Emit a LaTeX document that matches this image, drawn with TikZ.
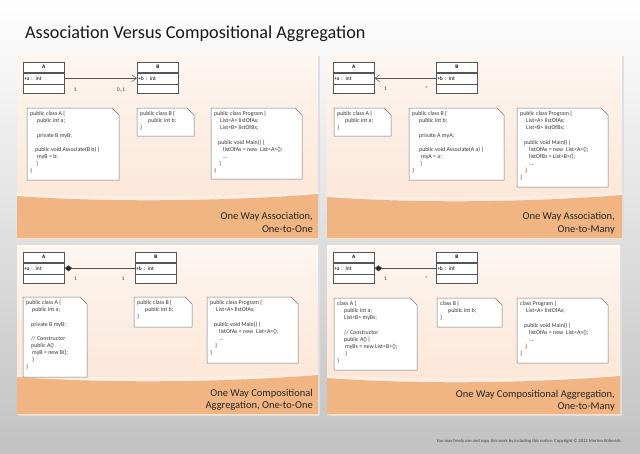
\documentclass[tikz,border=0pt]{standalone}
\usepackage{fontspec}
\setmainfont{Carlito}
\usetikzlibrary{arrows.meta}
\definecolor{pagebot}{HTML}{C2C2C2}
\definecolor{paneltop}{HTML}{FDF6F1}
\definecolor{panelbot}{HTML}{FBE3D1}
\definecolor{band}{HTML}{F0B583}
\definecolor{bandlight}{HTML}{FDEEE3}
\definecolor{linec}{HTML}{555555}
\tikzset{
  clsh/.style={draw=linec, line width=0.5pt, fill=white, minimum width=41pt, text width=39pt,
    inner sep=1pt, align=center, minimum height=10pt, anchor=north west,
    font=\fontsize{5.3}{6}\selectfont\bfseries},
  clsa/.style={draw=linec, line width=0.5pt, fill=white, minimum width=41pt, text width=39pt,
    inner sep=1pt, align=left, minimum height=11pt, anchor=north,
    font=\fontsize{5.5}{6}\selectfont},
  clsb/.style={draw=linec, line width=0.5pt, fill=white, minimum width=41pt, text width=39pt,
    inner sep=1pt, minimum height=9pt, anchor=north},
  notebox/.style={draw=black!55, fill=white, line width=0.5pt},
  notetext/.style={anchor=north west, inner sep=0pt, align=left, text=black!80,
    font=\fontsize{5.9}{7.1}\selectfont},
  assoc/.style={draw=linec, line width=0.5pt, -{Straight Barb[length=5pt,width=7pt]}},
  comp/.style={draw=linec, line width=0.5pt, {Diamond[length=8pt,width=6pt,fill=black!85]}-},
  mult/.style={inner sep=0pt, text=black!75, font=\fontsize{5.6}{6}\selectfont},
  bandtext/.style={anchor=east, inner sep=0pt, align=right, text=black!85,
    font=\fontsize{10.5}{12.5}\selectfont},
}
\newcommand\umlclass[5]{%
  \node[clsh] (#1h) at (#2,#3) {#4};
  \node[clsa] (#1a) at (#1h.south) {#5};
  \node[clsb] (#1b) at (#1a.south) {};
}
\newcommand\umlnote[6]{%
  \draw[notebox] (#2,#3) -- ({#2+#4-7},#3) -- ({#2+#4},{#3+7}) -- ({#2+#4},{#3+#5}) -- (#2,{#3+#5}) -- cycle;
  \node[notetext] (#1) at ({#2+3},{#3+3.3}) {#6};
}
\newcommand\panelbg[5]{%
  \fill[black!13] ({#1+1.5},{#2+1.5}) rectangle ({#3+1.5},{#4+1.5});
  \shade[top color=paneltop,bottom color=panelbot] (#1,#2) rectangle (#3,#4);
  \fill[bandlight] (#1,{#5-3}) .. controls ({#1+80},{#5+2}) and ({#3-100},{#5+1}) .. (#3,{#5-4}) -- (#3,#4) -- (#1,#4) -- cycle;
  \fill[band] (#1,#5) .. controls ({#1+80},{#5+6}) and ({#3-100},{#5+6}) .. (#3,{#5-2}) -- (#3,#4) -- (#1,#4) -- cycle;
}
\newcommand\tb[1]{\hspace*{#1pt}}
\begin{document}
\begin{tikzpicture}[x=1pt,y=-1pt]
\useasboundingbox (0,0) rectangle (640,453);
\shade[top color=white, bottom color=pagebot] (0,0) rectangle (640,453);

\node[anchor=base west, inner sep=0pt, font=\fontsize{18.2}{21}\selectfont, text=black!90] (title) at (25,38) {Association Versus Compositional Aggregation};

% panel backgrounds
\panelbg{17}{54}{318}{238}{196}
\panelbg{327}{54}{622}{238}{197}
\panelbg{17}{245}{318}{414}{377}
\panelbg{327}{245}{620}{414}{378}

% ---------- Panel 1 ----------
\umlclass{p1A}{23}{62}{A}{+a : int}
\umlclass{p1B}{137}{62}{B}{+b : int}
\draw[assoc] (p1Aa.east) -- node[mult, pos=0.15, yshift=-11pt] (p1m1) {1}
  node[mult, pos=0.78, yshift=-11pt] (p1m2) {0..1} (p1Ba.west);
\umlnote{p1n1}{27}{108}{92}{72}{public class A \{\\
\tb{7}public int a;\\[7.1pt]
\tb{7}private B myB;\\[7.1pt]
\tb{5}public void Associate(B b) \{\\
\tb{7}myB = b;\\
\tb{6}\}\\
\}}
\umlnote{p1n2}{137}{108}{57}{28}{public class B \{\\
\tb{8}public int b;\\
\}}
\umlnote{p1n3}{211}{108}{91}{71}{public class Program \{\\
\tb{6}List<A> listOfAs;\\
\tb{6}List<B> listOfBs;\\[7.1pt]
\tb{4}public void Main() \{\\
\tb{9}listOfAs = new~ List<A>();\\
\tb{9}...\\
\tb{5}\}\\
\}}
\node[bandtext] (p1t) at (313,222.5) {One Way Association,\\One-to-One};

% ---------- Panel 2 ----------
\umlclass{p2A}{333}{62}{A}{+a : int}
\umlclass{p2B}{436}{62}{B}{+b : int}
\draw[assoc] (p2Ba.west) -- node[mult, pos=0.16, yshift=-10pt] (p2m1) {*}
  node[mult, pos=0.82, yshift=-10pt] (p2m2) {1} (p2Aa.east);
\umlnote{p2n1}{334}{108}{57}{28}{public class A \{\\
\tb{8}public int a;\\
\}}
\umlnote{p2n2}{409}{108}{95}{72}{public class B \{\\
\tb{7}public int b;\\[7.1pt]
\tb{7}private A myA;\\[7.1pt]
\tb{7}public void Associate(A a) \{\\
\tb{9}myA = a;\\
\tb{8}\}\\
\}}
\umlnote{p2n3}{517}{108}{91}{79}{public class Program \{\\
\tb{6}List<A> listOfAs;\\
\tb{6}List<B> listOfBs;\\[7.1pt]
\tb{4}public void Main() \{\\
\tb{9}listOfAs = new~ List<A>();\\
\tb{9}listOfBs = List<B>();\\
\tb{9}...\\
\tb{5}\}\\
\}}
\node[bandtext] (p2t) at (615,223) {One Way Association,\\One-to-Many};

% ---------- Panel 3 ----------
\umlclass{p3A}{23}{252}{A}{+a : int}
\umlclass{p3B}{135}{252}{B}{+b : int}
\draw[comp] (p3Aa.east) -- node[mult, pos=0.155, yshift=-10pt] (p3m1) {1}
  node[mult, pos=0.83, yshift=-10pt] (p3m2) {1} (p3Ba.west);
\umlnote{p3n1}{23}{297}{64}{80}{public class A \{\\
\tb{6}public int a;\\[7.1pt]
\tb{5}private B myB;\\[7.1pt]
\tb{5}// Constructor\\
\tb{5}public A()\\
\tb{6}myB = new B();\\
\tb{6}\}\\
\}}
\umlnote{p3n2}{134}{297}{58}{30}{public class B \{\\
\tb{8}public int b;\\
\}}
\umlnote{p3n3}{207}{297}{91}{66}{public class Program \{\\
\tb{6}List<A> listOfAs;\\[7.1pt]
\tb{4}public void Main() \{\\
\tb{9}listOfAs = new~ List<A>();\\
\tb{9}...\\
\tb{5}\}\\
\}}
\node[bandtext] (p3t) at (313,400) {One Way Compositional\\Aggregation, One-to-One};

% ---------- Panel 4 ----------
\umlclass{p4A}{333}{252}{A}{+a : int}
\umlclass{p4B}{436}{252}{B}{+b : int}
\draw[comp] (p4Aa.east) -- node[mult, pos=0.18, yshift=-10pt] (p4m1) {1}
  node[mult, pos=0.84, yshift=-10pt] (p4m2) {*} (p4Ba.west);
\umlnote{p4n1}{334}{298}{83}{72}{class A \{\\
\tb{7}public int a;\\
\tb{7}List<B> myBs;\\[7.1pt]
\tb{7}// Constructor\\
\tb{7}public A() \{\\
\tb{8}myBs = new List<B>();\\
\tb{8}\}\\
\}}
\umlnote{p4n2}{437}{298}{65}{29}{class B \{\\
\tb{8}public int b;\\
\}}
\umlnote{p4n3}{517}{298}{91}{65}{class Program \{\\
\tb{6}List<A> listOfAs;\\[7.1pt]
\tb{4}public void Main() \{\\
\tb{9}listOfAs = new~ List<A>();\\
\tb{9}...\\
\tb{5}\}\\
\}}
\node[bandtext] (p4t) at (615,400.5) {One Way Compositional Aggregation,\\One-to-Many};

\node[anchor=east, inner sep=0pt, text=black!75, font=\fontsize{4.6}{5}\selectfont] (footer) at (622,441) {You may freely use and copy this work by including this notice: Copyright \textcopyright{} 2012 Morten Kühnrich.};
\end{tikzpicture}
\end{document}
